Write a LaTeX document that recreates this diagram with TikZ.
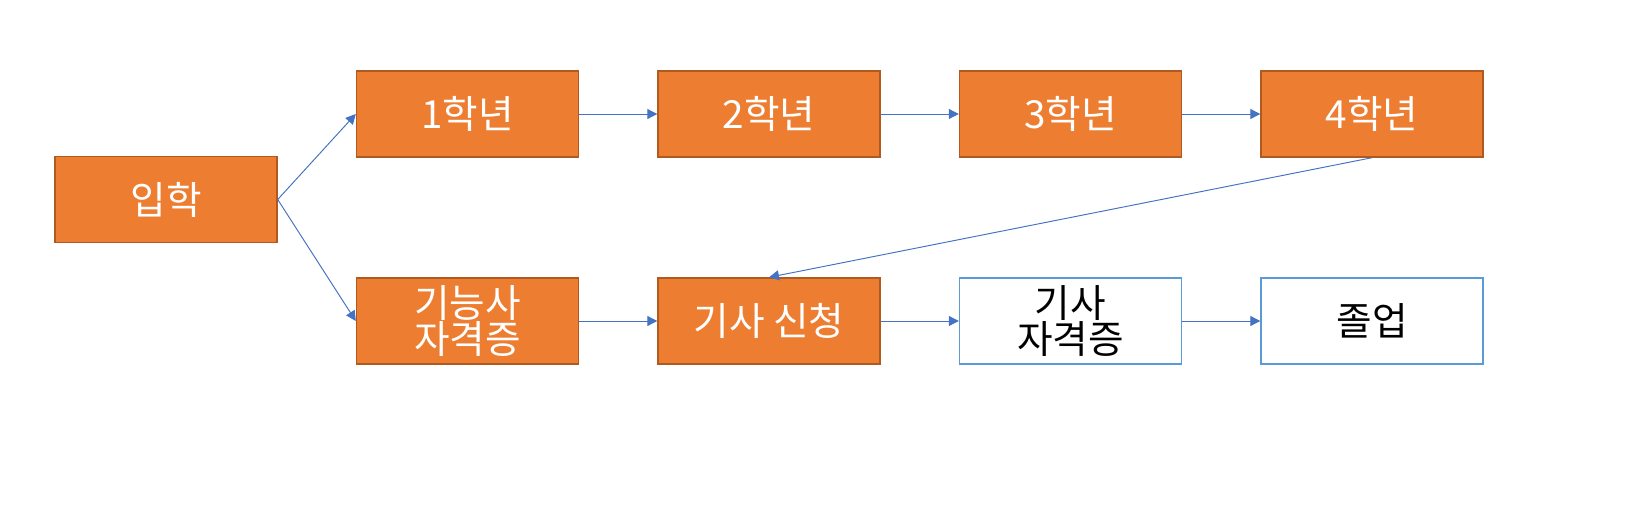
\documentclass[tikz,border=0pt]{standalone}
\usepackage{fontspec}
\newfontfamily\kr{Noto Sans CJK KR}
\usetikzlibrary{arrows.meta,positioning}

\definecolor{boxorange}{HTML}{ED7D31}
\definecolor{boxedge}{HTML}{AE5A21}
\definecolor{arrowblue}{HTML}{4472C4}
\definecolor{edgeblue}{HTML}{5B9BD5}

\begin{document}
\begin{tikzpicture}[->, >={Triangle[length=2mm,width=2mm]}, node distance=6.03cm,
	stage/.style={rectangle, draw=boxedge, fill=boxorange, line width=0.8pt, minimum width=4.44cm, minimum height=1.72cm, align=center, text=white, font=\kr\fontsize{22}{21}\selectfont},
	goal/.style={stage, draw=edgeblue, fill=white, text=black},
	every edge/.style={draw, color=arrowblue, line width=0.55pt}]

		\useasboundingbox (0,0) rectangle (32.86,-10.36);

		\node[stage] (entry) at (3.32,-3.99) {입학};
		\node[stage] (y1) at (9.35,-2.28) {1학년};
		\node[stage] (y2) [right of=y1] {2학년};
		\node[stage] (y3) [right of=y2] {3학년};
		\node[stage] (y4) [right of=y3] {4학년};
		\node[stage] (tech) at (9.35,-6.42) {기능사\\자격증};
		\node[stage] (apply) [right of=tech] {기사 신청};
		\node[goal] (cert) [right of=apply] {기사\\자격증};
		\node[goal] (grad) [right of=cert] {졸업};

		\path
		(entry.east) edge (y1.west)
				edge (tech.west)
		(y1) edge (y2)
		(y2) edge (y3)
		(y3) edge (y4)
		(y4.south) edge (apply.north)
		(tech) edge (apply)
		(apply) edge (cert)
		(cert) edge (grad);

		\end{tikzpicture}
\end{document}
